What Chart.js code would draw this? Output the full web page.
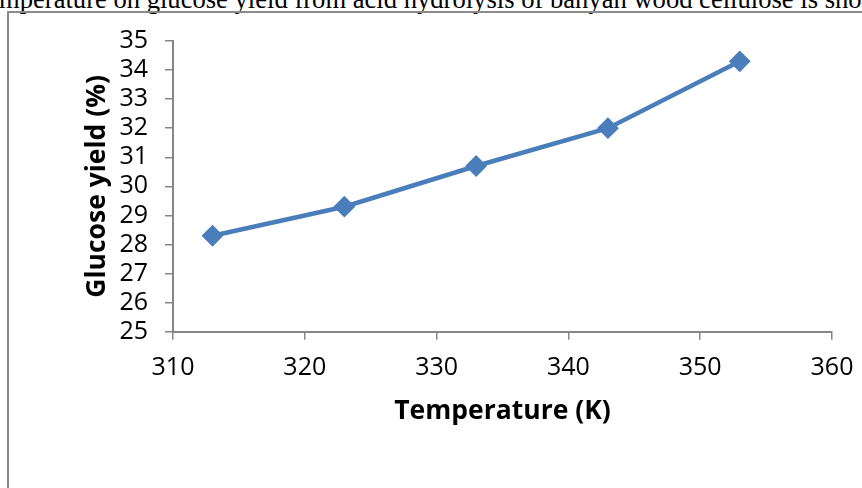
<!DOCTYPE html>
<html>
<head>
<meta charset="utf-8">
<script src="https://cdn.jsdelivr.net/npm/chart.js@4"></script>
<style>
  html, body { margin:0; padding:0; width:862px; height:488px; overflow:hidden; background:#fff; }
  #caption { position:absolute; left:-1px; top:-14px; font-family:"Liberation Serif", "Times New Roman", serif; font-size:26.6px; line-height:26px; white-space:nowrap; color:#000; }
  #frame { position:absolute; left:7px; top:11px; width:1000px; height:700px; border-left:2px solid #8a8a8a; border-top:2px solid #8a8a8a; }
  #wrap { position:absolute; left:0; top:0; width:862px; height:488px; }
</style>
</head>
<body>
<div id="caption">mperature on glucose yield from acid hydrolysis of banyan wood cellulose is shown</div>
<div id="frame"></div>
<div id="wrap"><canvas id="c" width="862" height="488"></canvas></div>
<script>
// Data
const temperatures = [313, 323, 333, 343, 353];          // K
const glucoseYield = [28.3, 29.3, 30.7, 32.0, 34.3];     // %
const xTicks = [310, 320, 330, 340, 350, 360];
const yTicks = [25, 26, 27, 28, 29, 30, 31, 32, 33, 34, 35];
const xTitle = 'Temperature (K)';
const yTitle = 'Glucose yield (%)';

const FONT = '"Open Sans", "Noto Sans", sans-serif';
const AXIS = '#868686';
const BLUE = '#4a7ebb';

new Chart(document.getElementById('c'), {
  type: 'line',
  data: {
    datasets: [{
      data: temperatures.map((t, i) => ({ x: t, y: glucoseYield[i] })),
      borderColor: BLUE,
      backgroundColor: BLUE,
      borderWidth: 4.5,
      pointStyle: 'rectRot',
      pointRadius: 9.5,
      pointBorderWidth: 2,
      pointBackgroundColor: BLUE,
      pointBorderColor: BLUE,
      tension: 0,
      fill: false
    }]
  },
  options: {
    responsive: false,
    animation: false,
    events: [],
    layout: { padding: { left: 0, right: 30, top: 41, bottom: 0 } },
    plugins: { legend: { display: false }, tooltip: { enabled: false }, title: { display: false } },
    scales: {
      x: {
        type: 'linear',
        min: xTicks[0],
        max: xTicks[xTicks.length - 1],
        afterBuildTicks: s => { s.ticks = xTicks.map(v => ({ value: v })); },
        ticks: { color: '#000', font: { family: FONT, size: 25 }, padding: 13, maxRotation: 0, autoSkip: false },
        grid: { display: true, drawOnChartArea: false, drawTicks: true, tickLength: 8, color: AXIS, lineWidth: 1.5 },
        border: { display: true, color: AXIS, width: 2 },
        title: { display: true, text: xTitle, color: '#000', font: { family: FONT, size: 26.5, weight: 'bold' }, padding: { top: 0, bottom: 61 } },
        afterFit: s => { s.height = 156.3; s.paddingLeft = 0; s.paddingRight = 0; }
      },
      y: {
        type: 'linear',
        min: yTicks[0],
        max: yTicks[yTicks.length - 1],
        afterBuildTicks: s => { s.ticks = yTicks.map(v => ({ value: v })); },
        ticks: { color: '#000', font: { family: FONT, size: 25 }, padding: 17, autoSkip: false },
        grid: { display: true, drawOnChartArea: false, drawTicks: true, tickLength: 8, color: AXIS, lineWidth: 1.5 },
        border: { display: true, color: AXIS, width: 2 },
        title: { display: true, text: yTitle, color: '#000', font: { family: FONT, size: 26.5, weight: 'bold' }, padding: { top: 82, bottom: 0 } },
        afterFit: s => { s.width = 173; s.paddingTop = 0; s.paddingBottom = 0; }
      }
    }
  }
});
</script>
</body>
</html>
